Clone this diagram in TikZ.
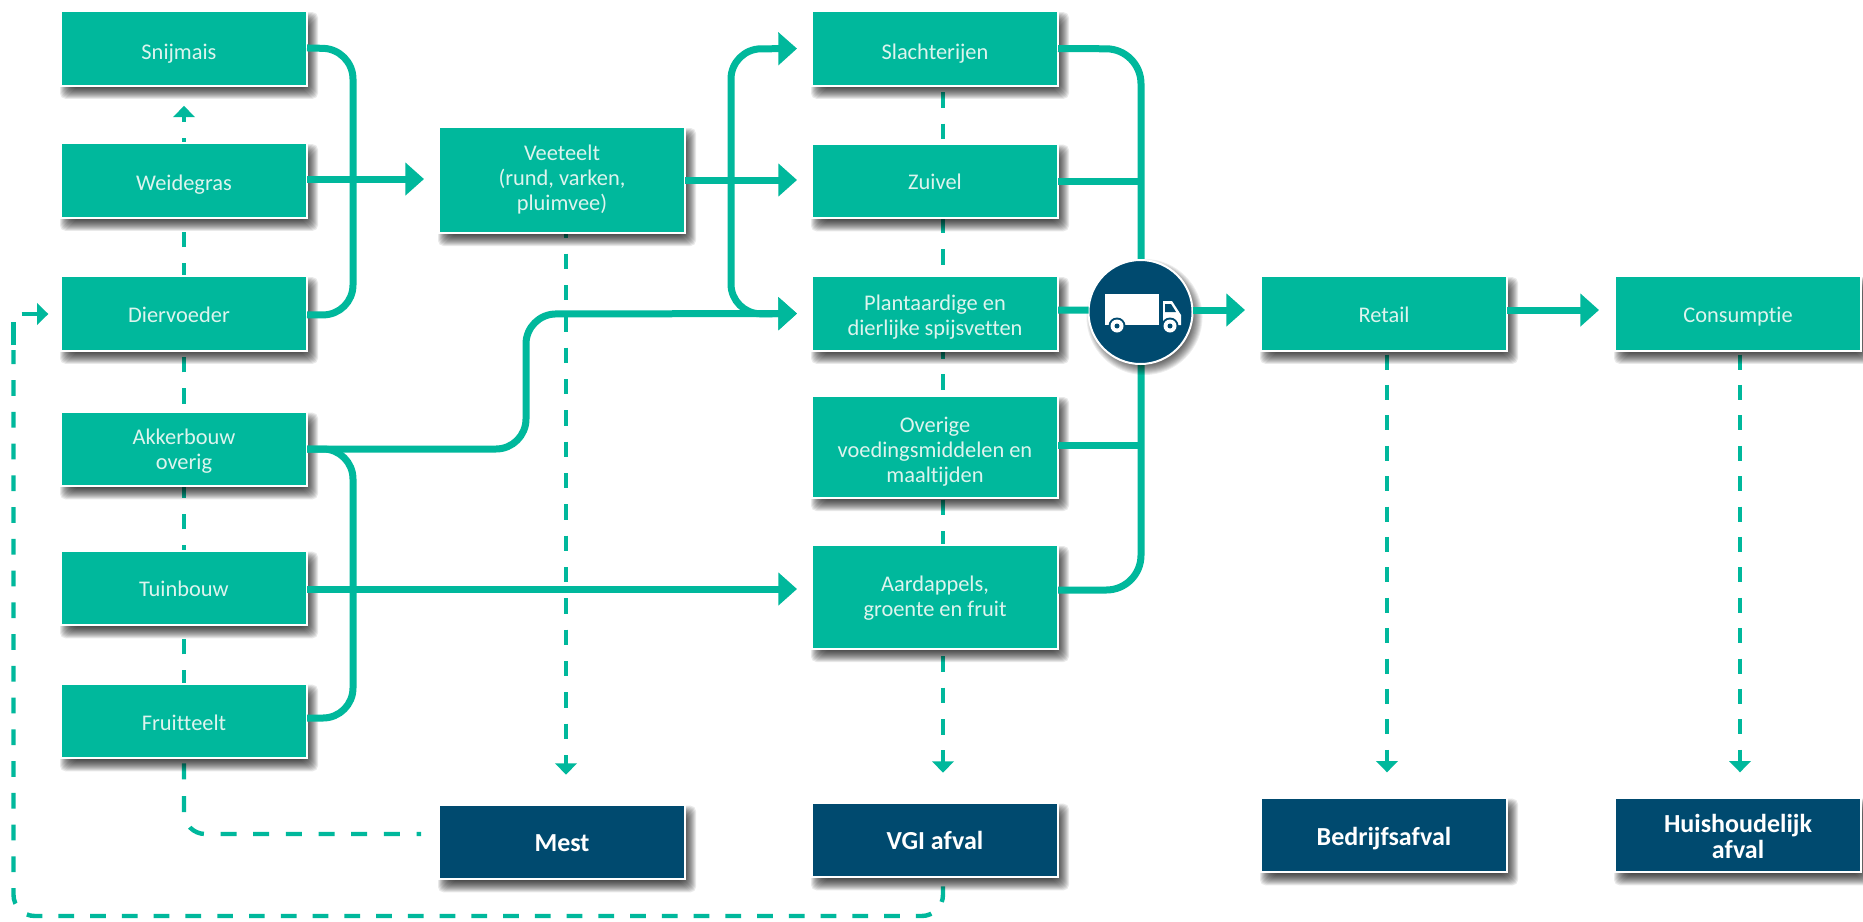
\documentclass[tikz,border=0pt]{standalone}
\usepackage{fontspec}
\setmainfont{Carlito}[Ligatures=NoCommon]
\usetikzlibrary{arrows.meta,calc}
\pgfdeclarelayer{onder}
\pgfdeclarelayer{schaduwlaag}
\pgfsetlayers{onder,schaduwlaag,main}
\definecolor{groen}{HTML}{00B89C}
\definecolor{navy}{HTML}{004A6F}
\definecolor{tekst}{HTML}{DDF4EE}
\newdimen\eenpx
\eenpx=0.75pt
\newcommand{\tx}[2]{\raisebox{-#1\eenpx}[0pt][0pt]{\begin{tabular}[t]{@{}c@{}}#2\end{tabular}}}
\setlength{\tabcolsep}{0pt}
\tikzset{
  x=0.75pt,y=-0.75pt,
  gbox/.style={rectangle,fill=groen,draw=white,line width=1.5pt,minimum width=184.5pt,minimum height=56pt,inner sep=0pt,outer sep=0pt,align=center,text=tekst,font=\fontsize{16.8}{19}\selectfont},
  nbox/.style={gbox,fill=navy,text=white,font=\fontsize{19.5}{19.5}\selectfont\bfseries},
  dikke/.style={draw=groen,line width=5.25pt,rounded corners=22.5pt},
  dikpijl/.style={dikke,-{Triangle[length=14pt,width=24pt]}},
  stip/.style={draw=groen,line width=3.3pt,dash pattern=on 11.6pt off 11.9pt,rounded corners=16pt},
  stippijl/.style={stip,-{Triangle[length=8.5pt,width=16pt]}},
}
\begin{document}
\begin{tikzpicture}
\useasboundingbox (0,0) rectangle (1863,921);
\begin{pgfonlayer}{onder}
\fill[white] (0,0) rectangle (1863,921);
\end{pgfonlayer}
% boxes
\node[gbox] (sni) at (184,48.5) {\tx{11}{Snijmais}\hspace*{7.5pt}};
\node[gbox] (wei) at (184,180.5) {\tx{10}{Weidegras}};
\node[gbox] (die) at (184,313.5) {\tx{9}{Diervoeder}\hspace*{7.5pt}};
\node[gbox] (akk) at (184,449) {\tx{-5}{Akkerbouw\\overig}};
\node[gbox] (tui) at (184,588) {\tx{8}{Tuinbouw}};
\node[gbox] (fru) at (184,721) {\tx{9}{Fruitteelt}};
\node[gbox,minimum height=79.5pt] (vee) at (562,180) {\tx{-20}{Veeteelt\\(rund, varken,\\pluimvee)}};
\node[gbox] (sla) at (935,48.5) {\tx{11}{Slachterijen}};
\node[gbox] (zui) at (935,181) {\tx{8}{Zuivel}};
\node[gbox] (pla) at (935,313.5) {\tx{-3}{Plantaardige en\\dierlijke spijsvetten}};
\node[gbox,minimum height=76.5pt] (ove) at (935,447) {\tx{-15}{Overige\\voedingsmiddelen en\\maaltijden}};
\node[gbox,minimum height=78pt] (aar) at (935,597) {\tx{-5.5}{Aardappels,\\groente en fruit}};
\node[gbox] (ret) at (1384,313.5) {\tx{8.5}{Retail}};
\node[gbox] (con) at (1738,313.5) {\tx{8.5}{Consumptie}};
\node[nbox] (mes) at (562,842) {\tx{9.7}{Mest}};
\node[nbox] (vgi) at (935,840) {\tx{9}{VGI afval}};
\node[nbox] (bed) at (1384,835) {\tx{10.5}{Bedrijfsafval}};
\node[nbox] (hui) at (1738,835) {\tx{-3}{Huishoudelijk\\afval}};
\coordinate (lb) at (13.5,916);
\coordinate (lt) at (13.5,314);
\coordinate (lm) at (13.5,350);
\coordinate (lk) at (13.5,345);
\coordinate (mh) at (421,834);
\coordinate (vj) at (731,180);
\coordinate (bus) at (1141,590);
\coordinate (hubin) at (1100,310);
\coordinate (hubuit) at (1190,310);
% soft shadows
\begin{pgfonlayer}{schaduwlaag}
\foreach \n in {sni,wei,die,akk,tui,fru,vee,sla,zui,pla,ove,aar,ret,con,mes,vgi,bed,hui}{
  \foreach \k in {-6,...,6}{
    \fill[black,opacity=0.085,rounded corners=4pt] ($(\n.south west)+(5-\k,7+\k)$) rectangle ($(\n.north east)+(5+\k,7-\k)$);
  }
}
\end{pgfonlayer}
% dashed flows under the shadows
\begin{pgfonlayer}{onder}
\draw[stippijl,dash phase=1.5pt,shorten >=15pt] (fru.north) -- (sni.south);
\draw[stip,dash pattern=on 12pt off 12.5pt,dash phase=20.75pt] (fru.south) -- (fru.south |- mh) -- (mh);
\draw[stippijl,dash phase=8pt,shorten >=22.5pt] ([xshift=3pt]vee.south) -- ([xshift=3pt]vee.south |- mes.north);
\draw[stippijl,dash phase=18.6pt,shorten >=22.5pt] ([xshift=6pt]sla.south) -- ([xshift=6pt]sla.south |- vgi.north);
\draw[stippijl,dash pattern=on 11.3pt off 11.5pt,dash phase=20pt,shorten >=19pt] ([xshift=2.25pt]ret.south) -- ([xshift=2.25pt]ret.south |- bed.north);
\draw[stippijl,dash pattern=on 11.3pt off 11.5pt,dash phase=20pt,shorten >=19pt] ([xshift=1.5pt]con.south) -- ([xshift=1.5pt]con.south |- hui.north);
\draw[stip,dash pattern=on 11.8pt off 12.02pt,dash phase=17.07pt]
  ([xshift=6pt]vgi.south) -- ([xshift=6pt]vgi.south |- lb) -- (lb) -- (lm);
\draw[stip,-{Triangle[length=8.5pt,width=16pt]},dash pattern=on 17.25pt off 9.5pt on 40pt,rounded corners=6pt,shorten >=9.5pt]
  (lk) -- (lt) -- (lt -| die.west);
\end{pgfonlayer}
% solid flows
\draw[dikke] ([yshift=0.4pt]sni.east) -- (353,49) -- (353,315) -- ([yshift=-1pt]die.east);
\draw[dikpijl,shorten >=11.25pt] ([yshift=1.1pt]wei.east) -- ([yshift=1.1pt]wei.east -| vee.west);
\draw[dikpijl,shorten >=11.25pt] (vee.east) -- (vee.east -| zui.west);
\draw[dikpijl,shorten >=11.25pt] (vj) -- (731,49) -- (sla.west);
\draw[dikpijl,shorten >=11.25pt] (vj) -- (731,314) -- (pla.west);
\draw[dikpijl,shorten >=11.25pt] (akk.east) -- (526,449) -- (526,314) -- (pla.west);
\draw[dikke] (akk.east) -- (353,449) -- (353,718) -- ([yshift=2.25pt]fru.east);
\draw[dikpijl,shorten >=11.25pt] ([yshift=-0.75pt]tui.east) -- ([yshift=-0.75pt]tui.east -| aar.west);
\draw[dikke,rounded corners=26pt] (sla.east) -- (1141,49) -- (bus) -- (aar.east |- bus);
\draw[dikke] (zui.east) -- (zui.east -| bus);
\draw[dikke] ([yshift=1.5pt]ove.east) -- ([yshift=1.5pt]ove.east -| bus);
% truck hub
\foreach \k in {-6,...,6}{
  \fill[black,opacity=0.07] (1144.5,317) circle[radius=52+\k];
}
\node[circle,fill=navy,draw=white,line width=1.5pt,minimum size=78pt,inner sep=0pt,outer sep=0pt] (hub) at (1140.5,312) {};
\draw[dikke] ([yshift=2.6pt]pla.east) -- (hub.west |- hubin);
\draw[dikpijl,shorten >=12pt] (hub.east |- hubuit) -- (ret.west |- hubuit);
\draw[dikpijl,shorten >=12pt] ([yshift=2.6pt]ret.east) -- ([yshift=2.6pt]ret.east -| con.west);
% truck
\fill[white] (1105,294) rectangle (1159,325);
\fill[white] (1163,301) -- (1172,301) -- (1181,315) -- (1181,325) -- (1163,325) -- cycle;
\fill[navy] (1165,304) -- (1171,304) -- (1176,312) -- (1165,312) -- cycle;
\foreach \wx in {1117,1170} {
  \fill[navy] (\wx,326) circle[radius=8.5];
  \fill[white] (\wx,326) circle[radius=6.5];
  \fill[navy] (\wx,326) circle[radius=2.5];
}
\end{tikzpicture}
\end{document}
